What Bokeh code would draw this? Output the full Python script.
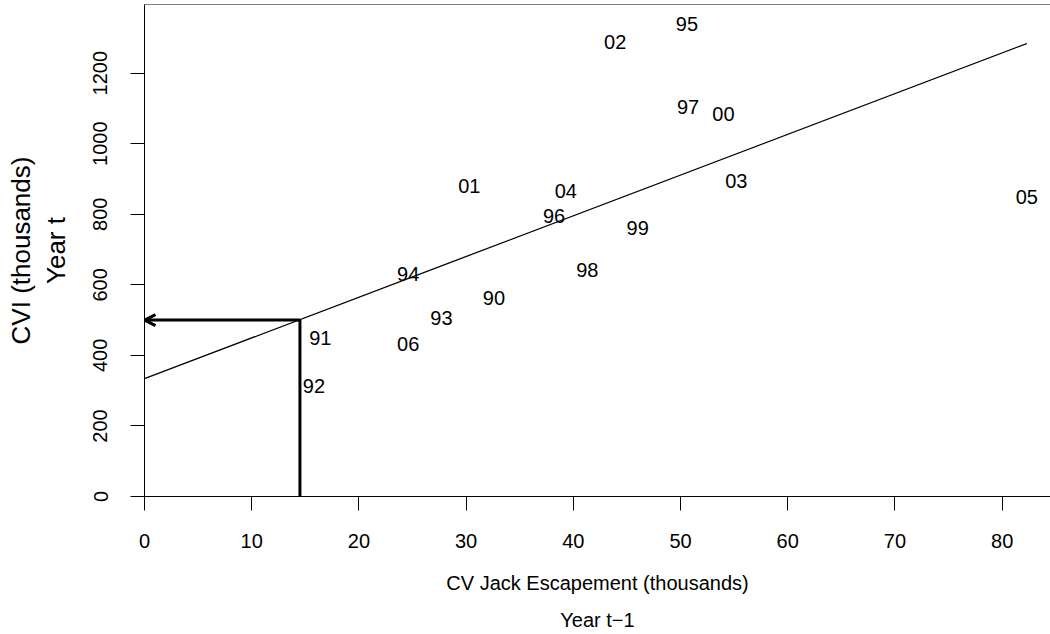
from bokeh.plotting import figure
from bokeh.models import Arrow, OpenHead, Span, LinearAxis, FixedTicker, Range1d, ColumnDataSource
from bokeh.core.properties import value
from bokeh.embed import file_html
from bokeh.resources import INLINE

# ---- data ----
years = ["90", "91", "92", "93", "94", "95", "96", "97", "98",
         "99", "00", "01", "02", "03", "04", "05", "06"]
jack_escapement = [32.6, 16.4, 15.8, 27.7, 24.6, 50.6, 38.2, 50.7, 41.3,
                   46.0, 54.0, 30.3, 43.9, 55.2, 39.3, 82.3, 24.6]
cvi = [564, 448, 312, 505, 632, 1338, 794, 1103, 643,
       762, 1083, 881, 1287, 893, 867, 850, 431]

fit_x = [0, 82.3]
fit_y = [334, 1284]

guide_x = 14.5      # jack escapement used for the forecast
guide_y = 500       # predicted CVI

x_ticks = [0, 10, 20, 30, 40, 50, 60, 70, 80]
y_ticks = [0, 200, 400, 600, 800, 1000, 1200]

FONT = "Liberation Sans"

p = figure(width=1050, height=634,
           x_range=Range1d(0, 84.51), y_range=Range1d(0, 1394.6),
           output_backend="svg", toolbar_location=None,
           min_border_left=144, min_border_right=0,
           min_border_top=4, min_border_bottom=138)
p.grid.visible = False
p.outline_line_color = None
p.background_fill_color = "white"
p.border_fill_color = "white"

def style_axis(ax, tick_fs, label_fs):
    ax.axis_line_color = "black"
    ax.axis_line_width = 1
    ax.major_tick_line_color = "black"
    ax.major_tick_line_width = 1
    ax.major_tick_in = 0
    ax.major_tick_out = 14
    ax.minor_tick_line_color = None
    ax.major_label_text_font = FONT
    ax.major_label_text_font_size = tick_fs
    ax.major_label_text_color = "black"
    ax.axis_label_text_font = FONT
    ax.axis_label_text_font_size = label_fs
    ax.axis_label_text_font_style = "normal"
    ax.axis_label_text_color = "black"

xa = p.xaxis[0]
style_axis(xa, "20px", "20px")
xa.ticker = FixedTicker(ticks=x_ticks)
xa.major_label_standoff = 23
xa.axis_label = "CV Jack Escapement (thousands)"
xa.axis_label_standoff = 21

ya = p.yaxis[0]
style_axis(ya, "20px", "26px")
ya.ticker = FixedTicker(ticks=y_ticks)
ya.major_label_orientation = "vertical"
ya.major_label_standoff = 23
ya.axis_label = "Year t"
ya.axis_label_standoff = 20

def title_axis(text, standoff, fs):
    ax = LinearAxis(ticker=FixedTicker(ticks=[]))
    style_axis(ax, "0px", fs)
    ax.axis_line_color = None
    ax.major_tick_line_color = None
    ax.major_tick_out = 0
    ax.major_label_standoff = 0
    ax.axis_label = text
    ax.axis_label_standoff = standoff
    return ax

p.add_layout(title_axis("Year t\u22121", 12, "20px"), "below")
p.add_layout(title_axis("CVI (thousands)", 2, "26px"), "left")

# top border of the box
p.add_layout(Span(location=1394.6, dimension="width", line_color="black", line_width=1))

# regression line
p.line(fit_x, fit_y, line_color="black", line_width=1.3)

# forecast guide: vertical line and arrow to the y axis
p.segment(x0=[guide_x], y0=[0], x1=[guide_x], y1=[guide_y],
          line_color="black", line_width=3)
p.add_layout(Arrow(end=OpenHead(size=11, line_width=3, line_color="black"),
                   x_start=guide_x, y_start=guide_y, x_end=0, y_end=guide_y,
                   line_color="black", line_width=3))

src = ColumnDataSource(dict(x=jack_escapement, y=cvi, t=years))
p.text(x="x", y="y", text="t", source=src,
       text_font=value(FONT), text_font_size="20px", text_color="black",
       text_align="center", text_baseline="middle")

open("out.html", "w").write(file_html(p, INLINE))
